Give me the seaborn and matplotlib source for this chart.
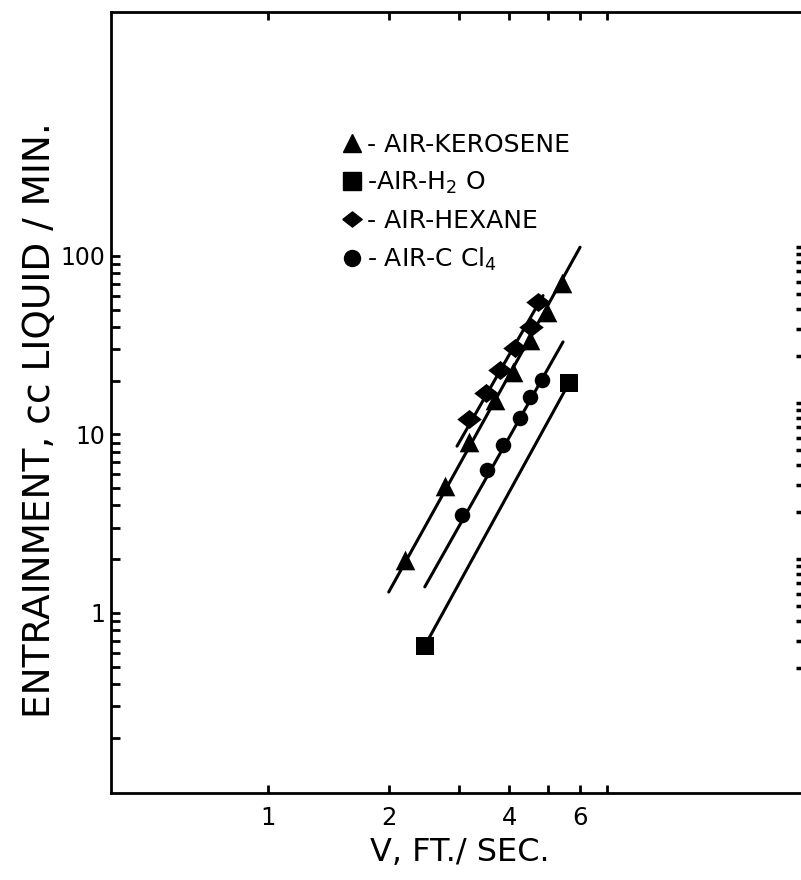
import matplotlib
matplotlib.use("Agg")
import matplotlib.pyplot as plt
from matplotlib.lines import Line2D
from matplotlib.ticker import FixedLocator, FixedFormatter, NullLocator, NullFormatter
import numpy as np
import pandas as pd
import seaborn as sns

# Measured entrainment vs. gas velocity for four air-liquid systems
kerosene_v = [2.20, 2.76, 3.17, 3.68, 4.08, 4.50, 4.97, 5.41]
kerosene_e = [1.98, 5.15, 9.1, 15.6, 22.4, 33.8, 48.7, 70.6]

hexane_v = [3.17, 3.50, 3.79, 4.13, 4.53, 4.72]
hexane_e = [12.2, 17.1, 23.0, 30.5, 40.0, 55.2]

ccl4_v = [3.05, 3.52, 3.85, 4.25, 4.50, 4.82]
ccl4_e = [3.54, 6.33, 8.73, 12.4, 16.2, 20.2]

water_v = [2.46, 5.63]
water_e = [0.654, 19.4]

# End points of the correlating lines
kerosene_fit_v = [2.00, 6.00]
kerosene_fit_e = [1.31, 112.0]
hexane_fit_v = [2.96, 4.85]
hexane_fit_e = [8.6, 60.0]
ccl4_fit_v = [2.46, 5.44]
ccl4_fit_e = [1.40, 33.0]
water_fit_v = [2.46, 5.63]
water_fit_e = [0.654, 19.4]

x_ticks = [1, 2, 3, 4, 5, 6, 7]
x_tick_labels = ["1", "2", "", "4", "", "6", ""]
y_major = [1, 10, 100]
y_major_labels = ["1", "10", "100"]
y_minor = [0.2, 0.3, 0.4, 0.5, 0.6, 0.7, 0.8, 0.9,
           2, 3, 4, 5, 6, 7, 8, 9,
           20, 30, 40, 50, 60, 70, 80, 90]
right_ticks = [2, 3, 4, 5, 6, 7, 8, 9, 10,
               20, 30, 40, 50, 60, 70, 80, 90, 100,
               200, 300, 400, 500, 600, 700, 800, 900, 1000]

legend_labels = ["- AIR-KEROSENE", "-AIR-H$_2$ O", "- AIR-HEXANE", "- AIR-C Cl$_4$"]

sns.set_theme(style="white")
plt.rcParams["font.family"] = ["DejaVu Sans"]
plt.rcParams["mathtext.default"] = "regular"
plt.rcParams["text.color"] = "black"
plt.rcParams["axes.labelcolor"] = "black"
plt.rcParams["xtick.color"] = "black"
plt.rcParams["ytick.color"] = "black"

W, H = 801, 880
fig = plt.figure(figsize=(W / 100, H / 100), dpi=100)
ax_left, ax_right, ax_top, ax_bottom = 111, 804, 12, 793
ax = fig.add_axes([ax_left / W, 1 - ax_bottom / H,
                   (ax_right - ax_left) / W, (ax_bottom - ax_top) / H])

diamond = [(-1, 0), (0, 0.78), (1, 0), (0, -0.78), (-1, 0)]
lw = 2.2

fits = [(kerosene_fit_v, kerosene_fit_e), (hexane_fit_v, hexane_fit_e),
        (ccl4_fit_v, ccl4_fit_e), (water_fit_v, water_fit_e)]
for fv, fe in fits:
    sns.lineplot(x=fv, y=fe, ax=ax, color="black", linewidth=lw, sort=False)

series = [
    (kerosene_v, kerosene_e, "^", 200),
    (water_v, water_e, "s", 165),
    (hexane_v, hexane_e, diamond, 310),
    (ccl4_v, ccl4_e, "o", 125),
]
for v, e, m, s in series:
    df = pd.DataFrame({"v": v, "e": e})
    sns.scatterplot(data=df, x="v", y="e", ax=ax, marker=m, s=s,
                    color="black", edgecolor="black", linewidth=0, zorder=3)

ax.set_xscale("log")
ax.set_yscale("log")
ax.set_xlim(0.406, 21.7)
ax.set_ylim(0.098, 2328)

ax.xaxis.set_major_locator(FixedLocator(x_ticks))
ax.xaxis.set_major_formatter(FixedFormatter(x_tick_labels))
ax.xaxis.set_minor_locator(NullLocator())
ax.yaxis.set_major_locator(FixedLocator(y_major))
ax.yaxis.set_major_formatter(FixedFormatter(y_major_labels))
ax.yaxis.set_minor_locator(FixedLocator(y_minor))
ax.yaxis.set_minor_formatter(NullFormatter())

ax.tick_params(axis="x", which="both", direction="in", top=True, bottom=True,
               length=6, width=2, labelsize=17.5, pad=9,
               colors="black", labelcolor="black")
ax.tick_params(axis="y", which="both", direction="in", left=True, right=False,
               length=6.5, width=2, labelsize=17, pad=4,
               colors="black", labelcolor="black")

for sp in ax.spines.values():
    sp.set_linewidth(2)
    sp.set_color("black")

# log ticks along the right frame
twin = ax.twinx()
twin.set_yscale("log")
twin.set_ylim(0.316, 32060)
twin.yaxis.set_major_locator(FixedLocator(right_ticks))
twin.yaxis.set_major_formatter(NullFormatter())
twin.yaxis.set_minor_locator(NullLocator())
twin.tick_params(axis="y", which="both", direction="in", right=True, left=False,
                 length=6, width=2.5, colors="black")
for sp in twin.spines.values():
    sp.set_visible(False)

ax.set_xlabel("V, FT./ SEC.", fontsize=23, color="black")
ax.set_ylabel("ENTRAINMENT, cc LIQUID / MIN.", fontsize=27, color="black")
ax.xaxis.set_label_coords(0.504, -0.056)
ax.yaxis.set_label_coords(-0.077, 0.478)

handles = [
    Line2D([], [], linestyle="none", marker="^", markersize=13.5, color="black"),
    Line2D([], [], linestyle="none", marker="s", markersize=12.5, color="black"),
    Line2D([], [], linestyle="none", marker=diamond, markersize=14, color="black"),
    Line2D([], [], linestyle="none", marker="o", markersize=11.5, color="black"),
]
fig.legend(handles, legend_labels, loc="upper left",
           bbox_to_anchor=(342 / W, 1 - 133 / H), frameon=False, borderpad=0,
           fontsize=18, handlelength=0.8, handletextpad=0.2, labelspacing=0.52,
           borderaxespad=0)

fig.savefig("out.png", dpi=100)
